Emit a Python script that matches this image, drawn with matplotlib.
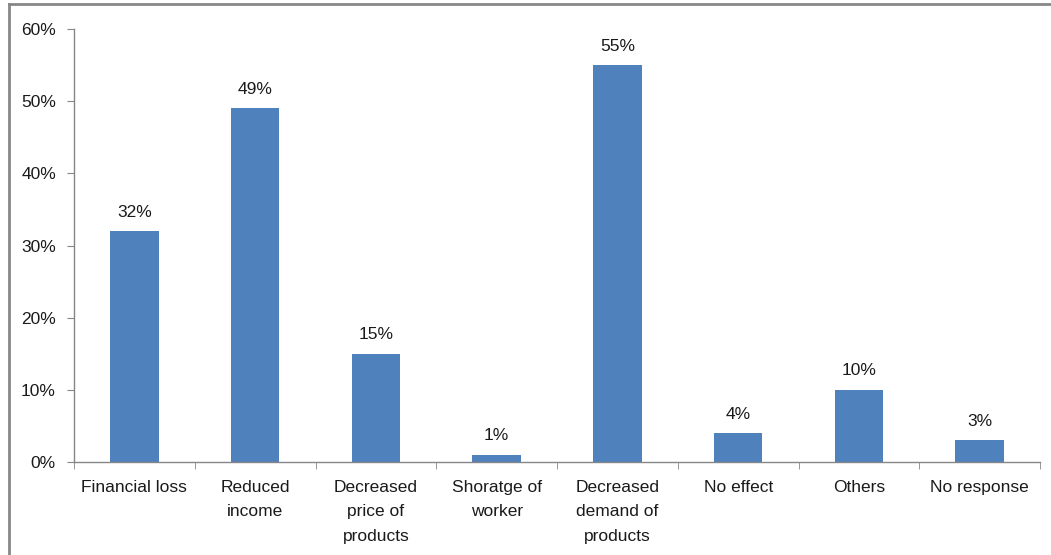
import matplotlib
matplotlib.use("Agg")
import matplotlib.pyplot as plt
from matplotlib.lines import Line2D
import numpy as np

categories = ["Financial loss", "Reduced\nincome", "Decreased\nprice of\nproducts",
              "Shoratge of\nworker", "Decreased\ndemand of\nproducts", "No effect",
              "Others", "No response"]
values = [32, 49, 15, 1, 55, 4, 10, 3]
yticks = [0, 10, 20, 30, 40, 50, 60]

plt.rcParams['font.family'] = ['Liberation Sans', 'DejaVu Sans']
fig = plt.figure(figsize=(10.51, 5.55), dpi=100)
ax = fig.add_axes([74/1051, 1-462/555, (1040-74)/1051, (462-29)/555])

gray = '#868686'
x = np.arange(len(categories))
bars = ax.bar(x, values, width=0.4, color='#4F81BD', zorder=2)
for xi, v in zip(x, values):
    ax.text(xi, v + 1.6, f"{v}%", ha='center', va='bottom', fontsize=12.5, color='#1a1a1a')

ax.set_xlim(-0.5, len(categories) - 0.5)
ax.set_ylim(0, 60)
ax.set_yticks(yticks)
ax.set_yticklabels([f"{t}%" for t in yticks], fontsize=12.5, color='#1a1a1a')
ax.set_xticks(x)
ax.set_xticklabels(categories, fontsize=12.5, color='#1a1a1a', linespacing=1.78, va='top')
ax.tick_params(axis='x', length=0, pad=13)
ax.set_xticks(np.arange(-0.5, len(categories)), minor=True)
ax.tick_params(axis='x', which='minor', length=5, color=gray, direction='out')
ax.tick_params(axis='y', length=5, color=gray, direction='out', pad=8)
for s in ['top', 'right']:
    ax.spines[s].set_visible(False)
for s in ['left', 'bottom']:
    ax.spines[s].set_color(gray)
    ax.spines[s].set_linewidth(1)

# outer border (only top and left visible in reference)
fig.add_artist(Line2D([8.5/1051, 8.5/1051], [0, 1-4/555], transform=fig.transFigure, color='#878787', lw=2))
fig.add_artist(Line2D([8.5/1051, 1], [1-4/555, 1-4/555], transform=fig.transFigure, color='#878787', lw=2))

fig.savefig("out.png", dpi=100)
